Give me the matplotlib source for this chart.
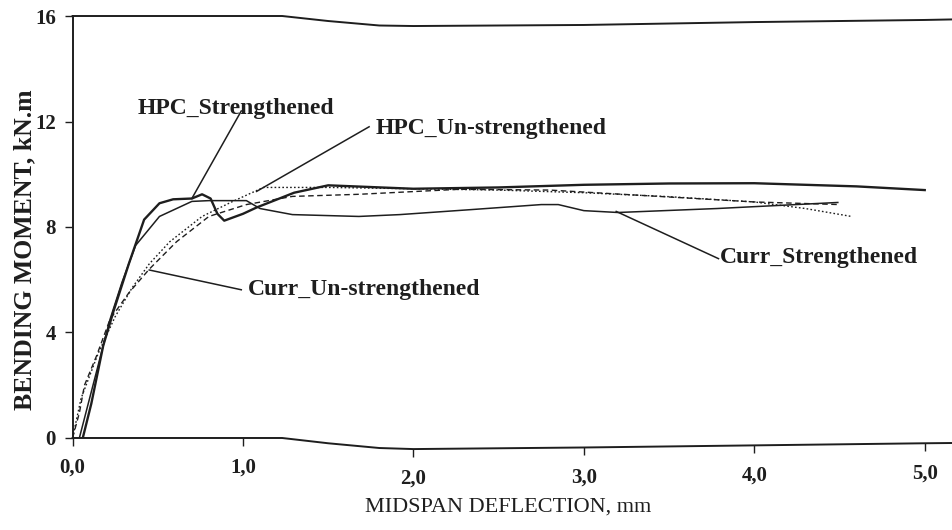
"""
Moment-deflection curves for HPC / conventional beams (scan recreation)
"""

import numpy as np
import matplotlib
matplotlib.use("Agg")
import matplotlib.pyplot as plt
from matplotlib.transforms import offset_copy

# ---- data ----
# HPC_Strengthened (thick solid)
hpc_s_x = [0.06, 0.11, 0.18, 0.24, 0.33, 0.42, 0.51, 0.59, 0.70, 0.76, 0.81,
           0.85, 0.89, 1.00, 1.08, 1.30, 1.50, 2.00, 2.50, 3.00, 3.50, 4.00,
           4.60, 5.00]
hpc_s_y = [0.0, 1.3, 3.5, 4.8, 6.6, 8.28, 8.9, 9.05, 9.08, 9.24, 9.08,
           8.5, 8.24, 8.5, 8.74, 9.3, 9.58, 9.45, 9.5, 9.6, 9.65, 9.66,
           9.54, 9.4]

# Curr_Strengthened (thin solid)
curr_s_x = [0.04, 0.10, 0.16, 0.22, 0.29, 0.37, 0.51, 0.70, 0.80, 1.02, 1.10,
            1.29, 1.68, 1.92, 2.34, 2.75, 2.85, 3.00, 3.20, 3.78, 4.49]
curr_s_y = [0.0, 1.5, 3.0, 4.5, 5.9, 7.3, 8.4, 8.97, 9.0, 9.0, 8.7,
            8.47, 8.4, 8.47, 8.66, 8.85, 8.85, 8.62, 8.55, 8.7, 8.93]

# HPC_Un-strengthened (dotted)
hpc_u_x = [0.0, 0.05, 0.15, 0.25, 0.35, 0.45, 0.57, 0.76, 0.94, 1.12, 1.50,
           2.00, 2.50, 3.00, 3.50, 4.00, 4.30, 4.57]
hpc_u_y = [0.0, 1.5, 3.2, 4.6, 5.7, 6.6, 7.44, 8.4, 8.97, 9.5, 9.5,
           9.45, 9.4, 9.3, 9.15, 8.95, 8.7, 8.4]

# Curr_Un-strengthened (dashed)
curr_u_x = [0.0, 0.04, 0.07, 0.14, 0.22, 0.33, 0.45, 0.61, 0.80, 1.02, 1.29,
            1.68, 2.27, 2.80, 3.20, 3.60, 4.00, 4.50]
curr_u_y = [0.0, 0.95, 2.0, 3.1, 4.5, 5.5, 6.4, 7.44, 8.4, 8.85, 9.16,
            9.24, 9.43, 9.4, 9.25, 9.1, 8.95, 8.85]

x_ticks = [0, 1, 2, 3, 4, 5]
x_tick_labels = ["0,0", "1,0", "2,0", "3,0", "4,0", "5,0"]
y_ticks = [0, 4, 8, 12, 16]

# the scanned frame is slightly warped (top and bottom edges)
frame_x = [0.0, 1.23, 1.50, 1.80, 2.00, 3.00, 4.00, 5.00, 5.16]
frame_bot = [0.0, 0.0, -0.2, -0.38, -0.42, -0.36, -0.28, -0.2, -0.19]
frame_top = [16.0, 16.0, 15.81, 15.64, 15.62, 15.66, 15.77, 15.85, 15.87]

INK = "#1e1e1e"
SERIF = ["Liberation Serif", "DejaVu Serif"]

fig = plt.figure(figsize=(9.52, 5.30), dpi=100)
ax = fig.add_axes([0.0762, 0.1736, 0.9238, 0.7962])

ax.plot(hpc_s_x, hpc_s_y, color=INK, lw=1.7, ls="-")
ax.plot(curr_s_x, curr_s_y, color=INK, lw=1.1, ls="-")
ax.plot(hpc_u_x, hpc_u_y, color=INK, lw=1.0, ls=(0, (1.2, 1.6)))
ax.plot(curr_u_x, curr_u_y, color=INK, lw=1.0, ls=(0, (4, 2.5)))

# frame
ax.plot(frame_x, frame_bot, color=INK, lw=1.4, clip_on=False)
ax.plot(frame_x, frame_top, color=INK, lw=1.4, clip_on=False)

# labels with pointer lines
notes = [
    ("HPC_Strengthened", (0.70, 9.08), (0.99, 12.4), (0.38, 12.51)),
    ("HPC_Un-strengthened", (1.08, 9.35), (1.74, 11.8), (1.78, 11.75)),
    ("Curr_Un-strengthened", (0.45, 6.37), (0.99, 5.62), (1.03, 5.62)),
    ("Curr_Strengthened", (3.19, 8.59), (3.79, 6.8), (3.80, 6.85)),
]
for text, tip, tail, pos in notes:
    ax.plot([tip[0], tail[0]], [tip[1], tail[1]], color=INK, lw=1.1)
    ax.text(pos[0], pos[1], text, ha="left", va="center", fontsize=17,
            fontweight="bold", family=SERIF, color=INK)

ax.set_xlim(0, 5.16)
ax.set_ylim(0, 16)
ax.set_yticks(y_ticks)
ax.set_xticks([])

for side in ["right", "top", "bottom"]:
    ax.spines[side].set_visible(False)
ax.spines["left"].set_color(INK)
ax.spines["left"].set_linewidth(1.4)

ax.tick_params(axis="y", direction="out", length=6, width=1, colors=INK,
               pad=6)
for lab in ax.get_yticklabels():
    lab.set_family(SERIF)
    lab.set_fontweight("bold")
    lab.set_fontsize(15)

# x ticks follow the warped bottom edge
tick_base = np.interp(x_ticks, frame_x, frame_bot)
ax.plot(x_ticks, tick_base, ls="none", marker=3, ms=6, mew=1, color=INK,
        clip_on=False)
lab_tr = offset_copy(ax.transData, fig=fig, x=0, y=-30, units="dots")
for xv, yb, lab in zip(x_ticks, tick_base, x_tick_labels):
    ax.text(xv, yb, lab, transform=lab_tr, ha="center", va="center",
            fontsize=15, fontweight="bold", family=SERIF, color=INK)

ax.set_xlabel("MIDSPAN DEFLECTION, mm", family=SERIF, fontsize=16,
              color=INK)
ax.xaxis.set_label_coords(0.495, -0.14)
ax.set_ylabel("BENDING MOMENT, kN.m", family=SERIF, fontsize=18.5,
              fontweight="bold", color=INK)
ax.yaxis.set_label_coords(-0.041, 0.445)

fig.savefig("out.png", dpi=100, facecolor="white")
